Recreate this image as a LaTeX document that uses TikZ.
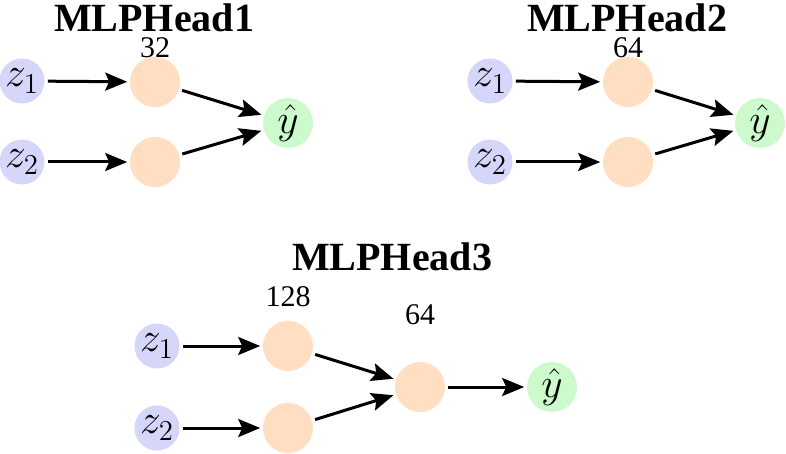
\documentclass[tikz,border=0pt]{standalone}
\usepackage{fontspec}
\setmainfont{Liberation Serif}
\usetikzlibrary{arrows.meta}
\definecolor{inblue}{RGB}{214,214,250}
\definecolor{hidor}{RGB}{255,222,194}
\definecolor{outgr}{RGB}{204,250,204}
\tikzset{
  innode/.style={circle,fill=inblue,minimum size=22.5pt,inner sep=0pt,font=\fontsize{21}{22}\selectfont},
  hidnode/.style={circle,fill=hidor,minimum size=25pt,inner sep=0pt},
  outnode/.style={circle,fill=outgr,minimum size=25pt,inner sep=0pt,font=\fontsize{21}{22}\selectfont},
  title/.style={font=\fontsize{20}{22}\selectfont\bfseries},
  dimlab/.style={font=\fontsize{15}{16}\selectfont},
  conn/.style={line width=1.5pt,-{Stealth[length=11pt,width=9pt,inset=2pt]},shorten >=1.2pt,shorten <=1.5pt}
}
\begin{document}
\begin{tikzpicture}[x=0.5pt,y=-0.5pt]
\useasboundingbox (0,0) rectangle (786,454);
% Head 1
\node[title] (t1) at (154,18) {MLPHead1};
\node[innode] (a1) at (22,81) {$z_1$};
\node[innode] (a2) at (22,162) {$z_2$};
\node[hidnode] (ah1) at (155,82) {};
\node[hidnode] (ah2) at (155,162) {};
\node[outnode] (ay) at (288,123) {$\hat{y}$};
\node[dimlab] (al) at (155,48) {32};
\draw[conn] (a1) -- (ah1);
\draw[conn] (a2) -- (ah2);
\draw[conn] (ah1) -- (ay);
\draw[conn] (ah2) -- (ay);
% Head 2
\node[title] (t2) at (627,18) {MLPHead2};
\node[innode] (b1) at (490,81) {$z_1$};
\node[innode] (b2) at (490,162) {$z_2$};
\node[hidnode] (bh1) at (628,82) {};
\node[hidnode] (bh2) at (628,162) {};
\node[outnode] (by) at (760,123) {$\hat{y}$};
\node[dimlab] (bl) at (628,48) {64};
\draw[conn] (b1) -- (bh1);
\draw[conn] (b2) -- (bh2);
\draw[conn] (bh1) -- (by);
\draw[conn] (bh2) -- (by);
% Head 3
\node[title] (t3) at (392,257) {MLPHead3};
\node[innode] (c1) at (157,346) {$z_1$};
\node[innode] (c2) at (157,428) {$z_2$};
\node[hidnode] (ch1) at (288,346) {};
\node[hidnode] (ch2) at (288,428) {};
\node[hidnode] (ch3) at (420,387) {};
\node[outnode] (cy) at (552,387) {$\hat{y}$};
\node[dimlab] (cl1) at (288,297) {128};
\node[dimlab] (cl2) at (420,315) {64};
\draw[conn] (c1) -- (ch1);
\draw[conn] (c2) -- (ch2);
\draw[conn] (ch1) -- (ch3);
\draw[conn] (ch2) -- (ch3);
\draw[conn] (ch3) -- (cy);
\end{tikzpicture}
\end{document}
